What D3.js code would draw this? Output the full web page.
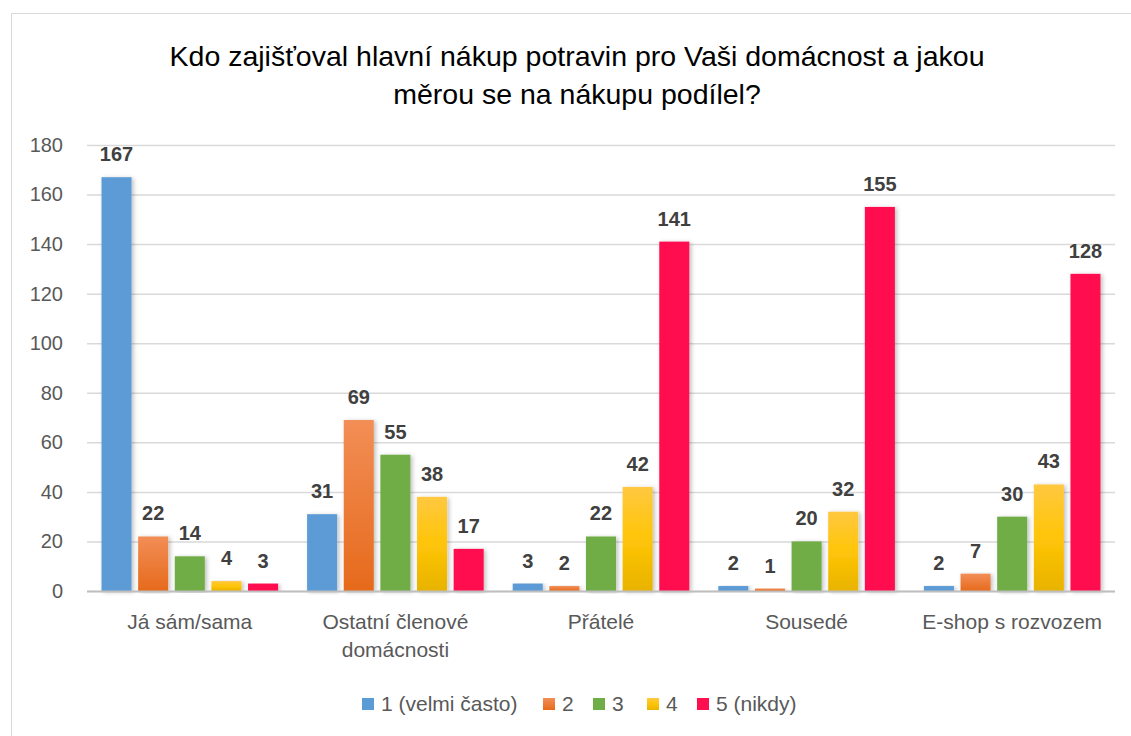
<!DOCTYPE html>
<html>
<head>
<meta charset="utf-8">
<script src="https://cdn.jsdelivr.net/npm/d3@7"></script>
<style>
  body { margin: 0; background: #fff; }
  svg text { font-family: "Liberation Sans", Arial, sans-serif; }
</style>
</head>
<body>
<div class="chart"></div>
<script>
// data
const categories = [["Já sám/sama"], ["Ostatní členové", "domácnosti"], ["Přátelé"], ["Sousedé"], ["E-shop s rozvozem"]];
const seriesNames = ["1 (velmi často)", "2", "3", "4", "5 (nikdy)"];
const values = [
  [167, 31, 3, 2, 2],    // 1 (velmi často)
  [22, 69, 2, 1, 7],     // 2
  [14, 55, 22, 20, 30],  // 3
  [4, 38, 42, 32, 43],   // 4
  [3, 17, 141, 155, 128] // 5 (nikdy)
];
const yTicks = [0, 20, 40, 60, 80, 100, 120, 140, 160, 180];

const w = 1131, h = 736;
const plotL = 87, plotR = 1115, plotT = 145, plotB = 591;

const svg = d3.select(".chart").append("svg")
  .attr("width", w).attr("height", h);

const defs = svg.append("defs");
const grads = [
  ["#5b9bd5", "#5b9bd5"],
  ["#f28e56", "#e66a1c"],
  ["#70ad47", "#70ad47"],
  ["#ffc840", "#e8b300"],
  ["#ff0f4f", "#ff0f4f"]
];
grads.forEach((g, i) => {
  const lg = defs.append("linearGradient").attr("id", "g" + i)
    .attr("x1", 0).attr("y1", 0).attr("x2", 0).attr("y2", 1);
  lg.append("stop").attr("offset", "0%").attr("stop-color", g[0]);
  if (i === 3) lg.append("stop").attr("offset", "50%").attr("stop-color", "#ffc508");
  lg.append("stop").attr("offset", "100%").attr("stop-color", g[1]);
});
const shadow = defs.append("filter").attr("id", "sh")
  .attr("x", "-20%").attr("y", "-5%").attr("width", "150%").attr("height", "110%");
shadow.append("feDropShadow").attr("dx", 2).attr("dy", 1).attr("stdDeviation", 2)
  .attr("flood-color", "#000").attr("flood-opacity", 0.25);

// chart border
svg.append("rect").attr("x", 11.5).attr("y", 13.5).attr("width", 1140).attr("height", 760)
  .attr("fill", "none").attr("stroke", "#d9d9d9");

// title
svg.append("text").attr("x", 577).attr("y", 66).attr("text-anchor", "middle")
  .attr("font-size", 28.5).attr("fill", "#000")
  .text("Kdo zajišťoval hlavní nákup potravin pro Vaši domácnost a jakou");
svg.append("text").attr("x", 577).attr("y", 104).attr("text-anchor", "middle")
  .attr("font-size", 28.5).attr("fill", "#000")
  .text("měrou se na nákupu podílel?");

const y = d3.scaleLinear().domain([0, 180]).range([plotB, plotT]);
const x0 = d3.scaleBand().domain(d3.range(categories.length)).range([plotL, plotR]);
const x1 = d3.scaleBand().domain(d3.range(seriesNames.length))
  .range([14.5, x0.bandwidth() - 14.5]).paddingInner(0.18);

// gridlines + y axis
const yAxis = d3.axisLeft(y).tickValues(yTicks).tickSize(-(plotR - plotL)).tickPadding(24);
const ya = svg.append("g").attr("transform", `translate(${plotL},0)`).call(yAxis);
ya.select(".domain").remove();
ya.selectAll(".tick line").attr("stroke", "#d9d9d9").attr("stroke-width", 1.5);
ya.selectAll(".tick text").attr("font-size", 20).attr("fill", "#595959");

// bars
const groups = svg.selectAll("g.grp").data(categories).enter().append("g")
  .attr("class", "grp").attr("transform", (d, i) => `translate(${x0(i)},0)`);

groups.each(function(c, ci) {
  const g = d3.select(this);
  seriesNames.forEach((s, si) => {
    const v = values[si][ci];
    g.append("rect")
      .attr("x", x1(si)).attr("width", x1.bandwidth())
      .attr("y", y(v)).attr("height", y(0) - y(v))
      .attr("fill", `url(#g${si})`).attr("filter", "url(#sh)");
    g.append("text")
      .attr("x", x1(si) + x1.bandwidth() / 2).attr("y", y(v) - 16)
      .attr("text-anchor", "middle").attr("font-size", 20).attr("font-weight", "bold")
      .attr("fill", "#404040").text(v);
  });
});

// x axis line
svg.append("line").attr("x1", plotL).attr("x2", plotR).attr("y1", plotB + 0.5).attr("y2", plotB + 0.5)
  .attr("stroke", "#bfbfbf").attr("stroke-width", 2);

// category labels
categories.forEach((lines, i) => {
  const t = svg.append("text").attr("text-anchor", "middle").attr("font-size", 21).attr("fill", "#595959");
  lines.forEach((l, li) => {
    t.append("tspan").attr("x", x0(i) + x0.bandwidth() / 2).attr("y", 629 + li * 28).text(l);
  });
});

// legend
const legendX = [362, 543, 593, 647, 697];
seriesNames.forEach((s, i) => {
  svg.append("rect").attr("x", legendX[i]).attr("y", 698).attr("width", 12).attr("height", 12)
    .attr("fill", `url(#g${i})`);
  svg.append("text").attr("x", legendX[i] + 19).attr("y", 711).attr("font-size", 21)
    .attr("fill", "#595959").text(s);
});
</script>
</body>
</html>
